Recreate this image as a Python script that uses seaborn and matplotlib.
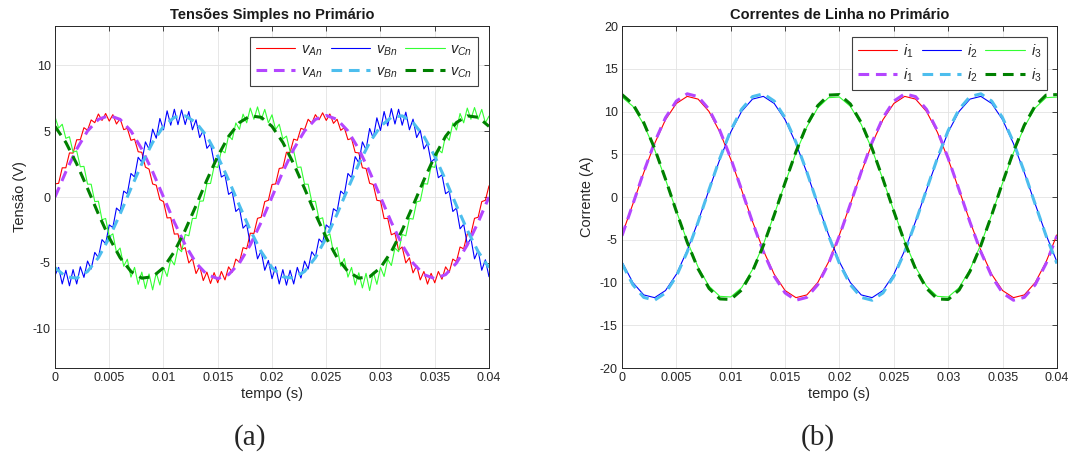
import numpy as np
import matplotlib
matplotlib.use('Agg')
import matplotlib.pyplot as plt
import seaborn as sns

# eixo do tempo (s)
t_med = np.linspace(0, 0.04, 121)   # sinais medidos
t_ref = np.linspace(0, 0.04, 41)    # sinais de referência

# (a) tensões simples medidas (V)
vAn = [1.00, 1.04, 2.22, 2.22, 3.35, 3.34, 4.35, 4.36, 5.27, 5.07,
       5.86, 5.65, 6.31, 5.82, 6.35, 5.77, 6.26, 5.55, 5.96, 5.12,
       5.22, 4.31, 4.40, 3.44, 3.40, 2.27, 2.12, 0.99, 0.90, -0.20,
       -0.35, -1.59, -1.57, -2.82, -2.80, -3.99, -3.85, -5.01, -4.67, -5.82,
       -5.26, -6.35, -5.71, -6.57, -5.75, -6.52, -5.66, -6.30, -5.31, -5.72,
       -4.72, -4.96, -3.85, -3.94, -2.75, -2.77, -1.62, -1.54, -0.35, -0.25,
       0.95, 0.99, 2.17, 2.22, 3.40, 3.39, 4.40, 4.31, 5.22, 5.12,
       5.91, 5.60, 6.26, 5.87, 6.40, 5.82, 6.31, 5.60, 5.91, 5.07,
       5.27, 4.36, 4.45, 3.39, 3.35, 2.22, 2.17, 1.04, 0.95, -0.25,
       -0.30, -1.64, -1.62, -2.87, -2.75, -4.04, -3.80, -5.01, -4.62, -5.77,
       -5.21, -6.30, -5.66, -6.62, -5.80, -6.52, -5.66, -6.25, -5.31, -5.72,
       -4.72, -4.91, -3.80, -3.94, -2.80, -2.82, -1.62, -1.54, -0.35, -0.25,
       0.85]
vBn = [-5.96, -5.35, -6.61, -5.57, -6.75, -5.52, -6.61, -5.30, -6.11, -4.87,
       -5.47, -4.21, -4.60, -3.24, -3.55, -2.12, -2.32, -0.84, -1.10, 0.45,
       0.25, 1.79, 1.52, 3.02, 2.65, 4.19, 3.65, 5.16, 4.47, 5.97,
       5.11, 6.55, 5.46, 6.67, 5.50, 6.62, 5.51, 6.50, 5.11, 5.87,
       4.52, 5.06, 3.70, 4.04, 2.65, 2.92, 1.52, 1.69, 0.20, 0.40,
       -1.10, -0.84, -2.37, -2.07, -3.60, -3.19, -4.70, -4.11, -5.57, -4.82,
       -6.21, -5.30, -6.61, -5.52, -6.70, -5.57, -6.61, -5.35, -6.16, -4.87,
       -5.47, -4.16, -4.55, -3.19, -3.50, -2.12, -2.37, -0.89, -1.10, 0.45,
       0.20, 1.79, 1.47, 3.07, 2.60, 4.19, 3.60, 5.21, 4.47, 6.02,
       5.06, 6.50, 5.41, 6.72, 5.55, 6.67, 5.46, 6.45, 5.11, 5.92,
       4.52, 5.06, 3.65, 4.09, 2.65, 2.92, 1.47, 1.69, 0.25, 0.45,
       -1.10, -0.84, -2.42, -2.07, -3.60, -3.14, -4.70, -4.06, -5.57, -4.77,
       -6.06]
vCn = [6.10, 5.24, 5.53, 4.46, 4.58, 3.41, 3.50, 2.30, 2.33, 0.98,
       0.97, -0.35, -0.32, -1.73, -1.63, -3.00, -2.80, -4.21, -3.88, -5.26,
       -4.73, -6.09, -5.35, -6.64, -5.71, -6.96, -5.85, -7.06, -5.76, -6.69,
       -5.35, -6.04, -4.73, -5.16, -3.88, -4.16, -2.85, -2.95, -1.63, -1.63,
       -0.32, -0.30, 1.02, 1.03, 2.33, 2.25, 3.55, 3.36, 4.68, 4.36,
       5.63, 5.14, 6.30, 5.64, 6.76, 5.91, 6.85, 5.86, 6.66, 5.64,
       6.25, 5.14, 5.53, 4.41, 4.63, 3.46, 3.50, 2.25, 2.28, 0.98,
       0.97, -0.35, -0.32, -1.68, -1.58, -3.00, -2.80, -4.21, -3.83, -5.26,
       -4.68, -6.09, -5.35, -6.69, -5.76, -6.91, -5.80, -7.11, -5.71, -6.64,
       -5.35, -6.04, -4.73, -5.21, -3.88, -4.16, -2.85, -2.95, -1.63, -1.68,
       -0.37, -0.30, 1.02, 0.98, 2.33, 2.25, 3.60, 3.36, 4.68, 4.31,
       5.63, 5.09, 6.35, 5.64, 6.76, 5.91, 6.80, 5.91, 6.66, 5.64,
       6.15]

# (a) tensões de referência (V)
vAn_ref = [0.00, 1.92, 3.64, 5.02, 5.90, 6.20, 5.90, 5.02, 3.64, 1.92,
           0.00, -1.92, -3.64, -5.02, -5.90, -6.20, -5.90, -5.02, -3.64, -1.92,
           0.00, 1.92, 3.64, 5.02, 5.90, 6.20, 5.90, 5.02, 3.64, 1.92,
           0.00, -1.92, -3.64, -5.02, -5.90, -6.20, -5.90, -5.02, -3.64, -1.92,
           0.00]
vBn_ref = [-5.37, -6.06, -6.17, -5.66, -4.61, -3.10, -1.29, 0.65, 2.52, 4.15,
           5.37, 6.06, 6.17, 5.66, 4.61, 3.10, 1.29, -0.65, -2.52, -4.15,
           -5.37, -6.06, -6.17, -5.66, -4.61, -3.10, -1.29, 0.65, 2.52, 4.15,
           5.37, 6.06, 6.17, 5.66, 4.61, 3.10, 1.29, -0.65, -2.52, -4.15,
           -5.37]
vCn_ref = [5.37, 4.15, 2.52, 0.65, -1.29, -3.10, -4.61, -5.66, -6.17, -6.06,
           -5.37, -4.15, -2.52, -0.65, 1.29, 3.10, 4.61, 5.66, 6.17, 6.06,
           5.37, 4.15, 2.52, 0.65, -1.29, -3.10, -4.61, -5.66, -6.17, -6.06,
           -5.37, -4.15, -2.52, -0.65, 1.29, 3.10, 4.61, 5.66, 6.17, 6.06,
           5.37]

# (b) correntes de linha medidas (A)
i1 = [-4.42, -0.82, 2.85, 6.25, 9.04, 10.94, 11.77, 11.45, 10.01, 7.59,
      4.42, 0.82, -2.85, -6.25, -9.04, -10.94, -11.77, -11.45, -10.01, -7.59,
      -4.42, -0.82, 2.85, 6.25, 9.04, 10.94, 11.77, 11.45, 10.01, 7.59,
      4.42, 0.82, -2.85, -6.25, -9.04, -10.94, -11.77, -11.45, -10.01, -7.59,
      -4.42]
i2 = [-7.59, -10.01, -11.45, -11.77, -10.94, -9.04, -6.25, -2.85, 0.82, 4.42,
      7.59, 10.01, 11.45, 11.77, 10.94, 9.04, 6.25, 2.85, -0.82, -4.42,
      -7.59, -10.01, -11.45, -11.77, -10.94, -9.04, -6.25, -2.85, 0.82, 4.42,
      7.59, 10.01, 11.45, 11.77, 10.94, 9.04, 6.25, 2.85, -0.82, -4.42,
      -7.59]
i3 = [11.69, 10.61, 8.49, 5.54, 2.05, -1.64, -5.17, -8.20, -10.42, -11.62,
      -11.69, -10.61, -8.49, -5.54, -2.05, 1.64, 5.17, 8.20, 10.42, 11.62,
      11.69, 10.61, 8.49, 5.54, 2.05, -1.64, -5.17, -8.20, -10.42, -11.62,
      -11.69, -10.61, -8.49, -5.54, -2.05, 1.64, 5.17, 8.20, 10.42, 11.62,
      11.69]

# (b) correntes de referência (A)
i1_ref = [-4.53, -0.84, 2.93, 6.41, 9.27, 11.22, 12.07, 11.74, 10.26, 7.78,
          4.53, 0.84, -2.93, -6.41, -9.27, -11.22, -12.07, -11.74, -10.26, -7.78,
          -4.53, -0.84, 2.93, 6.41, 9.27, 11.22, 12.07, 11.74, 10.26, 7.78,
          4.53, 0.84, -2.93, -6.41, -9.27, -11.22, -12.07, -11.74, -10.26, -7.78,
          -4.53]
i2_ref = [-7.78, -10.26, -11.74, -12.07, -11.22, -9.27, -6.41, -2.93, 0.84, 4.53,
          7.78, 10.26, 11.74, 12.07, 11.22, 9.27, 6.41, 2.93, -0.84, -4.53,
          -7.78, -10.26, -11.74, -12.07, -11.22, -9.27, -6.41, -2.93, 0.84, 4.53,
          7.78, 10.26, 11.74, 12.07, 11.22, 9.27, 6.41, 2.93, -0.84, -4.53,
          -7.78]
i3_ref = [11.98, 10.88, 8.70, 5.68, 2.10, -1.68, -5.30, -8.41, -10.68, -11.92,
          -11.98, -10.88, -8.70, -5.68, -2.10, 1.68, 5.30, 8.41, 10.68, 11.92,
          11.98, 10.88, 8.70, 5.68, 2.10, -1.68, -5.30, -8.41, -10.68, -11.92,
          -11.98, -10.88, -8.70, -5.68, -2.10, 1.68, 5.30, 8.41, 10.68, 11.92,
          11.98]

xticks = [0, 0.005, 0.01, 0.015, 0.02, 0.025, 0.03, 0.035, 0.04]
xtick_labels = ['0', '0.005', '0.01', '0.015', '0.02', '0.025', '0.03', '0.035', '0.04']

cores_med = ['#FF0000', '#0000FF', '#33FF33']
cores_ref = ['#B446FF', '#4DBEEE', '#008000']

sns.set_theme(style='whitegrid')
plt.rcParams['font.family'] = ['Liberation Sans', 'DejaVu Sans']
plt.rcParams['mathtext.fontset'] = 'custom'
plt.rcParams['mathtext.it'] = 'Liberation Sans:italic'
plt.rcParams['mathtext.rm'] = 'Liberation Sans'
plt.rcParams['axes.unicode_minus'] = False

fig = plt.figure(figsize=(10.7, 4.53), dpi=100)
ax1 = fig.add_axes([0.0514, 0.1876, 0.4056, 0.755])
ax2 = fig.add_axes([0.5813, 0.1876, 0.4065, 0.755])


def desenhar(ax, t, medidos, refs, nomes, titulo, ylabel, ylim, yticks, ancora):
    for y, c, n in zip(medidos, cores_med, nomes):
        sns.lineplot(x=t, y=y, ax=ax, color=c, lw=0.8, label=n, errorbar=None)
    for y, c, n in zip(refs, cores_ref, nomes):
        sns.lineplot(x=t_ref, y=y, ax=ax, color=c, lw=2.2, label=n,
                     linestyle=(0, (3.5, 2.2)), errorbar=None)
    h, l = ax.get_legend_handles_labels()
    ordem = [0, 3, 1, 4, 2, 5]
    leg = ax.legend([h[i] for i in ordem], [l[i] for i in ordem], ncol=3,
                    loc='upper right', bbox_to_anchor=ancora, borderaxespad=0,
                    fancybox=False, framealpha=1, edgecolor='#404040',
                    fontsize=10.5, handlelength=2.7, handletextpad=0.4,
                    columnspacing=0.55, borderpad=0.4, labelspacing=0.45)
    leg.get_frame().set_linewidth(0.8)

    ax.set_xlim(0, 0.04)
    ax.set_ylim(*ylim)
    ax.set_xticks(xticks)
    ax.set_xticklabels(xtick_labels)
    ax.set_yticks(yticks)
    ax.grid(True, color='#e3e3e3', lw=0.6)
    ax.tick_params(direction='in', top=True, right=True, length=3.5, width=0.6,
                   labelsize=9, color='#262626', labelcolor='#262626', pad=3)
    for s in ax.spines.values():
        s.set_visible(True)
        s.set_color('#262626')
        s.set_linewidth(0.7)
    ax.set_title(titulo, fontsize=10.5, fontweight='bold', pad=5, color='#1a1a1a')
    ax.set_xlabel('tempo (s)', fontsize=10.5, labelpad=2, color='#262626')
    ax.set_ylabel(ylabel, fontsize=10.5, labelpad=4, color='#262626')


desenhar(ax1, t_med, [vAn, vBn, vCn], [vAn_ref, vBn_ref, vCn_ref],
         [r'$v_{An}$', r'$v_{Bn}$', r'$v_{Cn}$'],
         'Tensões Simples no Primário', 'Tensão (V)', (-13, 13),
         [-10, -5, 0, 5, 10], (0.975, 0.969))
desenhar(ax2, t_ref, [i1, i2, i3], [i1_ref, i2_ref, i3_ref],
         [r'$i_{\mathit{1}}$', r'$i_{\mathit{2}}$', r'$i_{\mathit{3}}$'],
         'Correntes de Linha no Primário', 'Corrente (A)', (-20, 20),
         [-20, -15, -10, -5, 0, 5, 10, 15, 20], (0.977, 0.969))

fig.text(0.234, 0.035, '(a)', family='Liberation Serif', fontsize=21,
         ha='center', va='center')
fig.text(0.764, 0.035, '(b)', family='Liberation Serif', fontsize=21,
         ha='center', va='center')

fig.savefig('out.png', dpi=100, facecolor='white')
